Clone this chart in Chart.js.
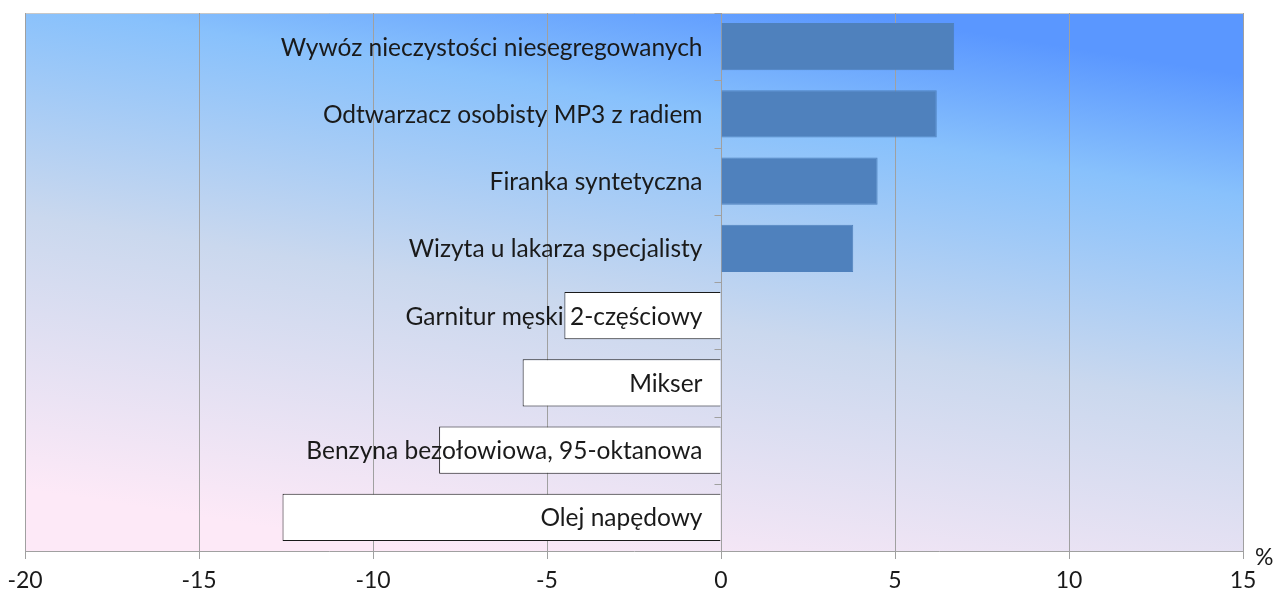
<!DOCTYPE html>
<html>
<head>
<meta charset="utf-8">
<script src="https://cdn.jsdelivr.net/npm/chart.js@4"></script>
<style>
  html, body { margin: 0; padding: 0; background: #fff; }
  #wrap { width: 1277px; height: 594px; }
</style>
</head>
<body>
<div id="wrap"><canvas id="myChart"></canvas></div>
<script>
const categories = [
  'Wywóz nieczystości niesegregowanych',
  'Odtwarzacz osobisty MP3 z radiem',
  'Firanka syntetyczna',
  'Wizyta u lakarza specjalisty',
  'Garnitur męski 2-częściowy',
  'Mikser',
  'Benzyna bezołowiowa, 95-oktanowa',
  'Olej napędowy'
];
const changes = [6.7, 6.2, 4.5, 3.8, -4.5, -5.7, -8.1, -12.6];
const xTicks = [-20, -15, -10, -5, 0, 5, 10, 15];
const unitLabel = '%';

const FONT = 'Lato, "Open Sans", sans-serif';

// gradient behind the plot area
const plotBackground = {
  id: 'plotBackground',
  beforeDraw(chart) {
    const { ctx, chartArea: a } = chart;
    ctx.save();
    ctx.translate(a.left, a.top);
    ctx.scale(a.right - a.left, a.bottom - a.top);
    const g = ctx.createLinearGradient(0.32, 1, 0.68, 0);
    g.addColorStop(0, '#fde9f7');
    g.addColorStop(0.45, '#cad8ee');
    g.addColorStop(0.8, '#88c1fc');
    g.addColorStop(1, '#5a97ff');
    ctx.fillStyle = g;
    ctx.fillRect(0, 0, 1, 1);
    ctx.restore();
    // top border
    ctx.save();
    ctx.strokeStyle = '#c8c8c8';
    ctx.lineWidth = 1;
    ctx.beginPath();
    ctx.moveTo(a.left, a.top + 0.5);
    ctx.lineTo(a.right + 0.5, a.top + 0.5);
    ctx.stroke();
    ctx.restore();
  }
};

// zero line ticks + category labels + unit
const labelsPlugin = {
  id: 'labelsPlugin',
  afterDatasetsDraw(chart) {
    const { ctx, scales: { x, y } } = chart;
    const x0 = Math.round(x.getPixelForValue(0)) + 0.5;
    ctx.save();
    ctx.strokeStyle = '#a0a0a0';
    ctx.lineWidth = 1;
    for (let i = 0; i <= categories.length; i++) {
      const py = Math.round(y.getPixelForValue(i - 0.5)) + 0.5;
      ctx.beginPath();
      ctx.moveTo(x0 - 7, py);
      ctx.lineTo(x0, py);
      ctx.stroke();
    }
    ctx.fillStyle = '#1a1a1a';
    ctx.font = '24.5px ' + FONT;
    ctx.textAlign = 'right';
    ctx.textBaseline = 'middle';
    categories.forEach(function (c, i) {
      ctx.fillText(c, x0 - 19, y.getPixelForValue(i) + 1);
    });
    ctx.textAlign = 'left';
    ctx.font = '23px ' + FONT;
    ctx.fillText(unitLabel, chart.chartArea.right + 12, chart.chartArea.bottom + 7);
    ctx.restore();
  }
};

const ctx = document.getElementById('myChart').getContext('2d');

const chart = new Chart(ctx, {
  type: 'bar',
  data: {
    labels: categories,
    datasets: [{
      data: changes,
      backgroundColor: changes.map(v => v >= 0 ? '#4f81bd' : '#ffffff'),
      borderColor: changes.map(v => v >= 0 ? '#4f81bd' : '#1a1a1a'),
      borderWidth: 1,
      barPercentage: 0.7,
      categoryPercentage: 1.0
    }]
  },
  options: {
    indexAxis: 'y',
    responsive: true,
    maintainAspectRatio: false,
    animation: false,
    layout: { padding: { left: 25, right: 34, top: 13, bottom: -8 } },
    plugins: {
      legend: { display: false },
      tooltip: { enabled: false }
    },
    scales: {
      x: {
        min: -20,
        max: 15,
        afterBuildTicks(scale) {
          scale.ticks = xTicks.map(v => ({ value: v }));
        },
        afterFit(scale) {
          scale.paddingLeft = 0;
          scale.paddingRight = 0;
        },
        grid: {
          color: '#a0a0a0',
          lineWidth: 1,
          tickLength: 8,
          drawTicks: true
        },
        border: { display: true, color: '#a0a0a0' },
        ticks: {
          color: '#1a1a1a',
          font: { family: FONT, size: 23, lineHeight: 1 },
          padding: 10,
          maxRotation: 0
        }
      },
      y: {
        display: false,
        offset: true
      }
    }
  },
  plugins: [plotBackground, labelsPlugin]
});
</script>
</body>
</html>
